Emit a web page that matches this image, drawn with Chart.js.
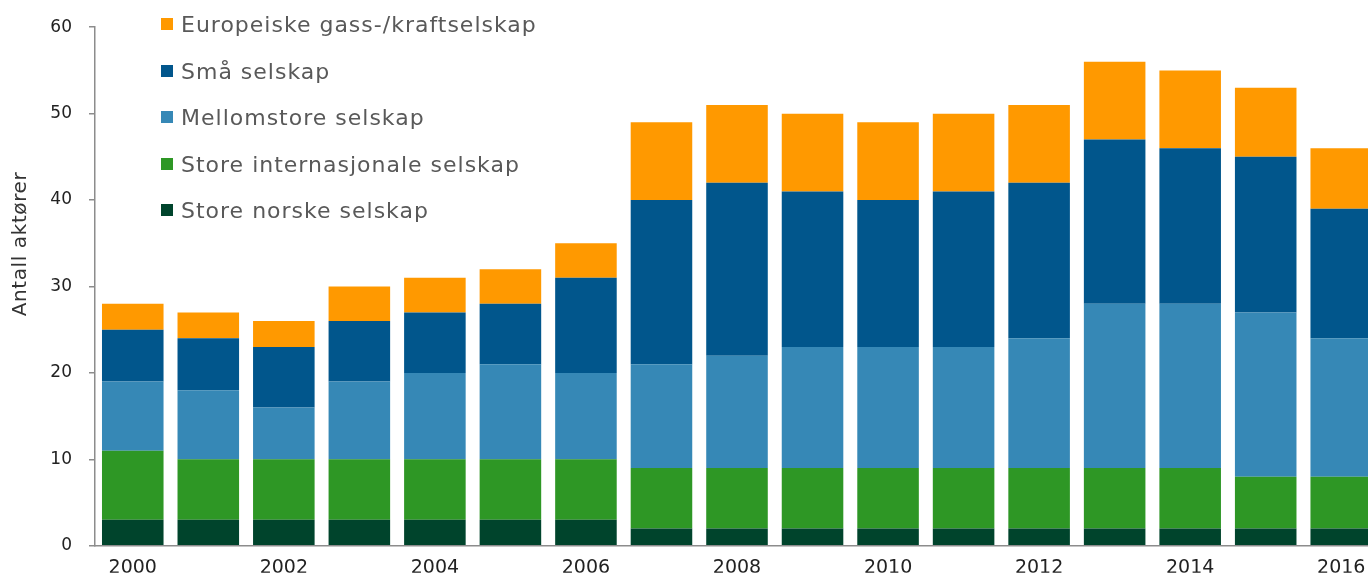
<!DOCTYPE html>
<html>
<head>
<meta charset="utf-8">
<script src="https://cdn.jsdelivr.net/npm/chart.js@4/dist/chart.umd.min.js"></script>
<style>
  html, body { margin: 0; padding: 0; background: #fff; overflow: hidden; }
  #wrap { position: relative; width: 1390px; height: 573px; }
  #legend { position: absolute; left: 161px; top: 14px; font-family: "DejaVu Sans", Verdana, sans-serif; font-size: 22px; line-height: 22px; letter-spacing: 1px; color: #595959; }
  #legend .item { height: 46.5px; display: flex; align-items: flex-start; white-space: nowrap; }
  #legend .box { width: 12px; height: 12px; margin: 4px 8px 0 0; flex: none; }
</style>
</head>
<body>
<div id="wrap">
  <canvas id="chart"></canvas>
  <div id="legend"></div>
</div>
<script>
// Antall aktører på norsk sokkel, fordelt på selskapstype
const years = ['2000', '2001', '2002', '2003', '2004', '2005', '2006', '2007', '2008',
  '2009', '2010', '2011', '2012', '2013', '2014', '2015', '2016'];

const storeNorske = [3, 3, 3, 3, 3, 3, 3, 2, 2, 2, 2, 2, 2, 2, 2, 2, 2];
const storeInternasjonale = [8, 7, 7, 7, 7, 7, 7, 7, 7, 7, 7, 7, 7, 7, 7, 6, 6];
const mellomstore = [8, 8, 6, 9, 10, 11, 10, 12, 13, 14, 14, 14, 15, 19, 19, 19, 16];
const smaa = [6, 6, 7, 7, 7, 7, 11, 19, 20, 18, 17, 18, 18, 19, 18, 18, 15];
const europeiske = [3, 3, 3, 4, 4, 4, 4, 9, 9, 9, 9, 9, 9, 9, 9, 8, 7];

const FONT = '"DejaVu Sans", Verdana, sans-serif';

// y-axis title sits a bit above the middle of the axis
const yTitle = {
    id: 'yTitle',
    afterDraw(chart) {
        const ctx = chart.ctx;
        ctx.save();
        ctx.translate(21, 244);
        ctx.rotate(-Math.PI / 2);
        ctx.font = '20px ' + FONT;
        ctx.letterSpacing = '0.6px';
        ctx.fillStyle = '#333';
        ctx.textAlign = 'center';
        ctx.textBaseline = 'middle';
        ctx.fillText('Antall aktører', 0, 0);
        ctx.restore();
    }
};

const ctx = document.getElementById('chart').getContext('2d');
const chart = new Chart(ctx, {
    type: 'bar',
    data: {
        labels: years,
        datasets: [
            { label: 'Store norske selskap', data: storeNorske, backgroundColor: '#00442C' },
            { label: 'Store internasjonale selskap', data: storeInternasjonale, backgroundColor: '#2E9725' },
            { label: 'Mellomstore selskap', data: mellomstore, backgroundColor: '#3688B6' },
            { label: 'Små selskap', data: smaa, backgroundColor: '#01568C' },
            { label: 'Europeiske gass-/kraftselskap', data: europeiske, backgroundColor: '#FF9900' }
        ]
    },
    options: {
        responsive: true,
        maintainAspectRatio: false,
        animation: false,
        datasets: { bar: { categoryPercentage: 1, barPercentage: 0.815, borderWidth: 0 } },
        layout: { padding: { top: 25, right: 11, left: 0, bottom: 0 } },
        scales: {
            x: {
                stacked: true,
                grid: { display: false },
                border: { display: true, color: '#8c8c8c', width: 1.5 },
                ticks: {
                    autoSkip: false,
                    maxRotation: 0,
                    padding: 3,
                    color: '#222',
                    font: { family: FONT, size: 19 },
                    callback: (v, i) => (i % 2 === 0 ? years[i] : '')
                },
                afterFit: (scale) => { scale.height = 27; }
            },
            y: {
                stacked: true,
                min: 0,
                max: 60,
                grid: { drawOnChartArea: false, drawTicks: true, tickLength: 6, color: '#8c8c8c', lineWidth: 1.5 },
                border: { display: true, color: '#8c8c8c', width: 1.5 },
                ticks: {
                    stepSize: 10,
                    padding: 17,
                    color: '#222',
                    font: { family: FONT, size: 17 }
                },
                afterFit: (scale) => { scale.width = 95; }
            }
        },
        plugins: {
            legend: { display: false },
            tooltip: { enabled: false }
        }
    },
    plugins: [yTitle]
});

// Legend listed top-down in stacking order (top segment first)
document.getElementById('legend').innerHTML = chart.data.datasets.slice().reverse().map(ds => `
    <div class="item"><span class="box" style="background:${ds.backgroundColor}"></span>${ds.label}</div>
`).join('');
</script>
</body>
</html>
